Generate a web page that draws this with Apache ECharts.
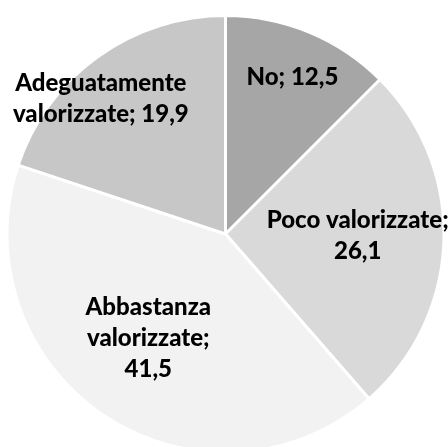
<!DOCTYPE html>
<html>
<head>
<meta charset="utf-8">
<script src="https://cdn.jsdelivr.net/npm/echarts@6/dist/echarts.min.js"></script>
<style>
  html, body { margin: 0; padding: 0; background: #ffffff; }
  #chart { width: 448px; height: 447px; }
</style>
</head>
<body>
<div id="chart"></div>
<script>
// Categories (clockwise from 12 o'clock) and their shares in percent
const categories = ['No', 'Poco valorizzate', 'Abbastanza\nvalorizzate', 'Adeguatamente\nvalorizzate'];
const values = [12.5, 26.1, 41.5, 19.9];
// Separator placed between name and value in each label
const separators = ['; ', ';\n', ';\n', '; '];
// Slice fills
const colors = ['#a6a6a6', '#d9d9d9', '#f2f2f2', '#c7c7c7'];
// Label nudges from the default inside position
const labelOffsets = [[24, -53], [20, -2], [-15, 11], [-59, -44]];

const fmt = v => v.toFixed(1).replace('.', ',');

const chart = echarts.init(document.getElementById('chart'), null, { renderer: 'canvas' });

chart.setOption({
  animation: false,
  backgroundColor: '#ffffff',
  series: [{
    type: 'pie',
    center: [225.5, 234],
    radius: [0, 218.5],
    startAngle: 90,
    clockwise: true,
    avoidLabelOverlap: false,
    itemStyle: { borderColor: '#ffffff', borderWidth: 3 },
    label: {
      show: true,
      position: 'inside',
      color: '#000000',
      fontFamily: 'Lato',
      fontWeight: 900,
      fontSize: 24,
      lineHeight: 31,
      align: 'center'
    },
    labelLine: { show: false },
    emphasis: { disabled: true },
    data: categories.map((name, i) => ({
      name: name,
      value: values[i],
      itemStyle: { color: colors[i] },
      label: {
        offset: labelOffsets[i],
        formatter: () => name + separators[i] + fmt(values[i])
      }
    }))
  }]
});
</script>
</body>
</html>
